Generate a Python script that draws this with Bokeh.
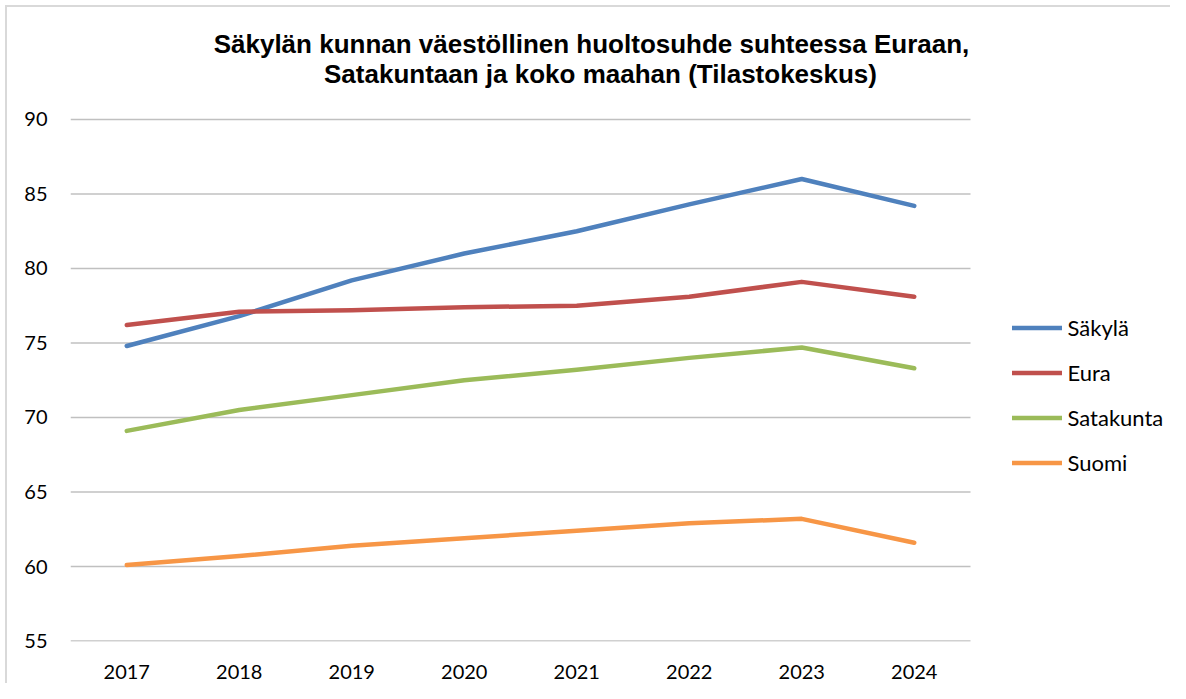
from bokeh.plotting import figure
from bokeh.models import Range1d, FixedTicker, Legend, LegendItem, Label
from bokeh.embed import file_html
from bokeh.resources import INLINE

years = ["2017", "2018", "2019", "2020", "2021", "2022", "2023", "2024"]
sakyla = [74.8, 76.8, 79.2, 81.0, 82.5, 84.3, 86.0, 84.2]
eura = [76.2, 77.1, 77.2, 77.4, 77.5, 78.1, 79.1, 78.1]
satakunta = [69.1, 70.5, 71.5, 72.5, 73.2, 74.0, 74.7, 73.3]
suomi = [60.1, 60.7, 61.4, 61.9, 62.4, 62.9, 63.2, 61.6]
series_names = ["Säkylä", "Eura", "Satakunta", "Suomi"]
series_colors = ["#4F81BD", "#C0504D", "#9BBB59", "#F79646"]
y_ticks = [55, 60, 65, 70, 75, 80, 85, 90]
title_lines = ["Säkylän kunnan väestöllinen huoltosuhde suhteessa Euraan,",
               "Satakuntaan ja koko maahan (Tilastokeskus)"]

xs = list(range(len(years)))
n = len(years)
# plot area: categories occupy 900 px (112.5 px each); the frame continues right for the legend
x_end = -0.5 + 1100 / 112.5
y_top = 90 + 119 / (522 / 35)

p = figure(width=1170, height=683, output_backend="svg", toolbar_location=None,
           x_range=Range1d(-0.5, x_end), y_range=Range1d(54.97, y_top),
           min_border_left=70, min_border_right=0, min_border_top=0, min_border_bottom=42)
p.styles = {"box-shadow": "inset 5px 5px 0 0 white, inset 7px 7px 0 0 #d9d9d9"}
p.background_fill_color = None
p.border_fill_color = None
p.outline_line_color = None

p.xgrid.grid_line_color = None
p.ygrid.grid_line_color = None
p.yaxis.ticker = FixedTicker(ticks=y_ticks)
p.xaxis.ticker = FixedTicker(ticks=xs)
p.xaxis.major_label_overrides = {i: y for i, y in zip(xs, years)}

for ax in (p.xaxis, p.yaxis):
    ax.axis_line_color = None
    ax.major_tick_line_color = None
    ax.minor_tick_line_color = None
    ax.major_tick_out = 0
    ax.major_tick_in = 0
    ax.minor_tick_out = 0
    ax.minor_tick_in = 0
    ax.major_label_text_font = "Lato"
    ax.major_label_text_font_size = "20px"
    ax.major_label_text_color = "black"
p.yaxis.major_label_standoff = 23
p.xaxis.major_label_standoff = 23

# horizontal gridlines limited to the category area
p.segment(x0=[-0.5] * len(y_ticks), x1=[n - 0.5] * len(y_ticks), y0=y_ticks, y1=y_ticks,
          line_color="#c0c0c0", line_width=1.5, level="underlay")

items = []
for name, vals, col in zip(series_names, [sakyla, eura, satakunta, suomi], series_colors):
    r = p.line(x=xs, y=vals, line_color=col, line_width=4.5, line_cap="round", line_join="round")
    items.append(LegendItem(label=name, renderers=[r]))

legend = Legend(items=items, location=(941.5, 165), orientation="vertical",
                glyph_width=50, glyph_height=27, label_height=27, spacing=18,
                label_standoff=6, padding=0, margin=0,
                border_line_color=None, background_fill_alpha=0,
                label_text_font="Lato", label_text_font_size="22px", label_text_color="black")
p.add_layout(legend)

for txt, cx, by in zip(title_lines, [521, 530], [597.5, 567.7]):
    p.add_layout(Label(x=cx, y=by, x_units="screen", y_units="screen", text=txt,
                       text_align="center", text_baseline="alphabetic",
                       text_font="Liberation Sans", text_font_style="bold",
                       text_font_size="26px", text_color="black"))

open("out.html", "w").write(file_html(p, INLINE))
